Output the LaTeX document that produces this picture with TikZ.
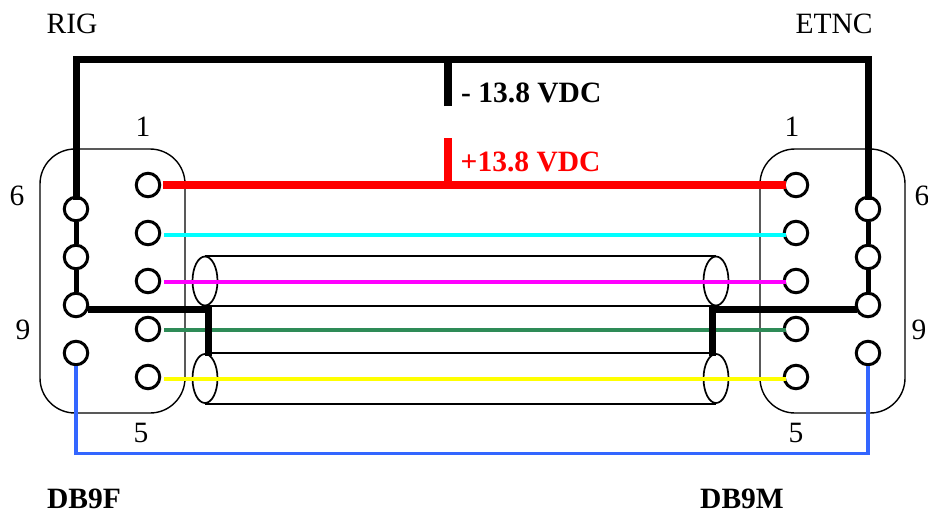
\documentclass[tikz,border=0pt]{standalone}
\usepackage{fontspec}
\setmainfont{Liberation Serif}
\usetikzlibrary{shapes.geometric}
\definecolor{wgreen}{RGB}{46,139,87}
\definecolor{wblue}{RGB}{51,102,255}
\definecolor{wcyan}{RGB}{0,255,255}
\definecolor{wmag}{RGB}{255,0,255}
\definecolor{wyel}{RGB}{255,255,0}
\tikzset{
  x=1pt,y=-1pt,
  lbl/.style={font=\fontsize{29.5}{33}\selectfont,inner sep=0pt,anchor=base},
  blbl/.style={font=\fontsize{29.5}{33}\selectfont\bfseries,inner sep=0pt,anchor=base},
  pin/.style={circle,draw=black,line width=3pt,minimum size=23.5pt,inner sep=0pt},
  shell/.style={draw=black,line width=1.4pt,rounded corners=35pt},
  endcap/.style={ellipse,draw=black,line width=1.7pt,minimum width=25pt,minimum height=49pt,inner sep=0pt},
  jacket/.style={draw=black,line width=1.8pt},
  thin wire/.style={line width=3.5pt},
}
\begin{document}
\begin{tikzpicture}
\useasboundingbox (0,0) rectangle (928,515);
% shells
\draw[shell] (40,149) rectangle (185,413);
\draw[shell] (760,149) rectangle (905,413);
% cable
\node[endcap] (ul) at (205,281) {};
\node[endcap] (ur) at (716,281) {};
\node[endcap] (ll) at (205,378.5) {};
\node[endcap] (lr) at (716,378.5) {};
\draw[jacket] (ul.north) -- (ur.north);
\draw[jacket] (ul.south) -- (ur.south);
\draw[jacket] (ll.north) -- (lr.north);
\draw[jacket] (ll.south) -- (lr.south);
% pins
\foreach \n/\y in {1/185,2/233,3/281,4/329,5/377}{
  \node[pin] (a\n) at (148,\y) {};
  \node[pin] (b\n) at (796,\y) {};
}
\foreach \n/\y in {6/209,7/257,8/305,9/353}{
  \node[pin] (a\n) at (76,\y) {};
  \node[pin] (b\n) at (868,\y) {};
}
\coordinate (tl) at (76,59);
\coordinate (tr) at (868,59);
\coordinate (nstub) at (448,106);
\coordinate (ntop) at (448,59);
\coordinate (pstub) at (448,138);
\coordinate (pbot) at (448,185);
\coordinate (gl) at (208,309);
\coordinate (gld) at (208,356);
\coordinate (gr) at (712.5,309);
\coordinate (grd) at (712.5,356);
\coordinate (gls) at (88,309);
\coordinate (grs) at (857,309);
\coordinate (bl) at (76,453.5);
\coordinate (br) at (868,453.5);
% wires
\draw[line width=7.5pt,red] ([xshift=1.5pt]a1.east) -- ([xshift=3pt]b1.west);
\draw[line width=7.5pt,red] (pstub) -- (pbot);
\draw[thin wire,wcyan] ([xshift=3pt,yshift=-2pt]a2.east) -- ([xshift=3pt,yshift=-2pt]b2.west);
\draw[thin wire,wmag] ([xshift=3pt,yshift=-1pt]a3.east) -- ([xshift=3pt,yshift=-1pt]b3.west);
\draw[thin wire,wgreen] ([xshift=3pt,yshift=-1pt]a4.east) -- ([xshift=3pt,yshift=-1pt]b4.west);
\draw[thin wire,wyel] ([xshift=3pt,yshift=-2pt]a5.east) -- ([xshift=3pt,yshift=-2pt]b5.west);
\draw[thin wire,wblue,miter limit=10] (a9.south) -- (bl) -- (br) -- (b9.south);
\draw[line width=7pt] ([yshift=-4pt]a6.north) -- (tl) -- (tr) -- ([yshift=-4pt]b6.north);
\draw[line width=7.5pt] (nstub) -- (ntop);
\draw[line width=5pt] (a6) -- (a7);
\draw[line width=5pt] (a7) -- (a8);
\draw[line width=5pt] (b6) -- (b7);
\draw[line width=5pt] (b7) -- (b8);
\draw[line width=7pt] (gls) -- (gl) -- (gld);
\draw[line width=7pt] (grs) -- (gr) -- (grd);
% labels
\node[lbl] (rig) at (72,33) {RIG};
\node[lbl] (etnc) at (834,33) {ETNC};
\node[lbl] (l1) at (143,136.5) {1};
\node[lbl] (r1) at (792,136.5) {1};
\node[lbl] (l6) at (17,205) {6};
\node[lbl] (r6) at (922,205) {6};
\node[lbl] (l9) at (23,339) {9};
\node[lbl] (r9) at (919,339) {9};
\node[lbl] (l5) at (141,442) {5};
\node[lbl] (r5) at (796,442) {5};
\node[blbl] (f) at (84,508) {DB9F};
\node[blbl] (m) at (742,508) {DB9M};
\node[blbl,anchor=base west] (neg) at (461,102) {- 13.8 VDC};
\node[blbl,anchor=base west,text=red] (pos) at (460.5,171) {+13.8 VDC};
\end{tikzpicture}
\end{document}
